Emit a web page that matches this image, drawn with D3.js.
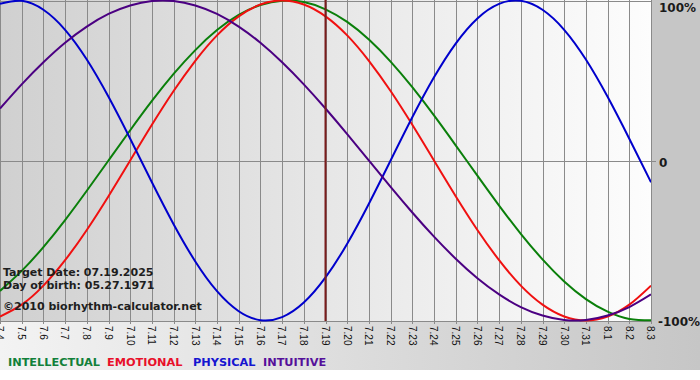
<!DOCTYPE html>
<html>
<head>
<meta charset="utf-8">
<script src="https://cdn.jsdelivr.net/npm/d3@7/dist/d3.min.js"></script>
<style>
  html, body { margin: 0; padding: 0; background: #ffffff; }
  svg { display: block; }
</style>
</head>
<body>
<div id="chart"></div>
<script>
// ---- data ----
const days = ["7.4","7.5","7.6","7.7","7.8","7.9","7.10","7.11","7.12","7.13","7.14","7.15","7.16","7.17","7.18","7.19","7.20","7.21","7.22","7.23","7.24","7.25","7.26","7.27","7.28","7.29","7.30","7.31","8.1","8.2","8.3"];
const intellectual = [-81.5,-69.0,-54.1,-37.2,-18.9,0,18.9,37.2,54.1,69.0,81.5,91.0,97.2,99.9,99.0,94.5,86.6,75.6,61.8,45.8,28.2,9.5,-9.5,-28.2,-45.8,-61.8,-75.6,-86.6,-94.5,-99.0,-99.9];
const emotional    = [-97.5,-90.1,-78.2,-62.3,-43.4,-22.3,0,22.3,43.4,62.3,78.2,90.1,97.5,100,97.5,90.1,78.2,62.3,43.4,22.3,0,-22.3,-43.4,-62.3,-78.2,-90.1,-97.5,-100,-97.5,-90.1,-78.2];
const physical     = [97.9,99.8,94.2,81.7,63.1,39.8,13.6,-13.6,-39.8,-63.1,-81.7,-94.2,-99.8,-97.9,-88.8,-73.1,-52.0,-27.0,0,27.0,52.0,73.1,88.8,97.9,99.8,94.2,81.7,63.1,39.8,13.6,-13.6];
const intuitive    = [32.5,47.6,61.4,73.6,83.7,91.6,96.9,99.7,99.7,96.9,91.6,83.7,73.6,61.4,47.6,32.5,16.5,0,-16.5,-32.5,-47.6,-61.4,-73.6,-83.7,-91.6,-96.9,-99.7,-99.7,-96.9,-91.6,-83.7];
const seriesNames  = ["INTELLECTUAL","EMOTIONAL","PHYSICAL","INTUITIVE"];
const yTickValues  = [100, 0, -100];
const yTickLabels  = ["100%", "0", "-100%"];
const targetDay    = "7.19";
const infoLines    = ["Target Date: 07.19.2025", "Day of birth: 05.27.1971", "\u00A92010 biorhythm-calculator.net"];

// ---- layout ----
const W = 700, H = 380;
const plot = { left: 0, right: 651, top: 0, bottom: 321 };
const lineColors   = ["#0a7f0a", "#f01010", "#0000cc", "#4b0082"];
const legendColors = ["#12803a", "#e8102a", "#1515d0", "#55109a"];

const svg = d3.select("#chart").append("svg")
  .attr("width", W).attr("height", H);

const defs = svg.append("defs");
const gPlot = defs.append("linearGradient").attr("id", "plotGrad")
  .attr("x1", "0%").attr("x2", "100%").attr("y1", "0%").attr("y2", "0%");
gPlot.append("stop").attr("offset", "0%").attr("stop-color", "#d0d0d0");
gPlot.append("stop").attr("offset", "100%").attr("stop-color", "#fdfdfd");

const gBot = defs.append("linearGradient").attr("id", "botGrad")
  .attr("x1", "0%").attr("x2", "100%").attr("y1", "0%").attr("y2", "0%");
gBot.append("stop").attr("offset", "0%").attr("stop-color", "#f3f3f3");
gBot.append("stop").attr("offset", "100%").attr("stop-color", "#c6c6c6");

defs.append("clipPath").attr("id", "plotClip")
  .append("rect").attr("x", plot.left).attr("y", plot.top)
  .attr("width", plot.right - plot.left).attr("height", plot.bottom - plot.top + 1);

// backgrounds
svg.append("rect").attr("x", 0).attr("y", 0).attr("width", W).attr("height", H).attr("fill", "#ffffff");
svg.append("rect").attr("x", 0).attr("y", plot.bottom).attr("width", W).attr("height", 370 - plot.bottom).attr("fill", "url(#botGrad)");
svg.append("rect").attr("x", plot.right).attr("y", 0).attr("width", W - plot.right).attr("height", plot.bottom).attr("fill", "#c6c6c6");
svg.append("rect").attr("x", plot.left).attr("y", plot.top).attr("width", plot.right - plot.left).attr("height", plot.bottom - plot.top).attr("fill", "url(#plotGrad)");

// scales
const x = d3.scalePoint().domain(days).range([plot.left, plot.right]);
const y = d3.scaleLinear().domain([-100, 100]).range([plot.bottom - 0.5, plot.top + 0.5]);

// vertical grid lines + ticks
svg.append("g").selectAll("line").data(days).join("line")
  .attr("x1", d => Math.round(x(d)) + 0.5).attr("x2", d => Math.round(x(d)) + 0.5)
  .attr("y1", plot.top).attr("y2", plot.bottom + 3)
  .attr("stroke", "#8a8a8a").attr("stroke-width", 1);

// horizontal lines (top, zero, bottom)
svg.append("g").selectAll("line").data(yTickValues).join("line")
  .attr("x1", plot.left).attr("x2", d => d === 0 ? plot.right + 5 : plot.right)
  .attr("y1", d => Math.round(y(d)) + 0.5).attr("y2", d => Math.round(y(d)) + 0.5)
  .attr("stroke", "#8a8a8a").attr("stroke-width", 1);
svg.append("line").attr("x1", plot.right + 0.5).attr("x2", plot.right + 0.5)
  .attr("y1", plot.top).attr("y2", plot.bottom + 1)
  .attr("stroke", "#8a8a8a");

// x tick labels (rotated)
svg.append("g").selectAll("text").data(days).join("text")
  .attr("transform", d => `translate(${x(d)},${plot.bottom + 5}) rotate(90)`)
  .attr("dy", "0.36em")
  .attr("text-anchor", "start")
  .attr("font-family", "Liberation Sans, Arial, sans-serif")
  .attr("font-size", "10px")
  .attr("fill", "#111111")
  .text(d => d);

// y labels on right panel
svg.append("g").selectAll("text").data(yTickValues).join("text")
  .attr("x", (d, i) => i === 2 ? plot.right + 7 : plot.right + 8)
  .attr("y", d => d === 100 ? 12 : (d === 0 ? y(d) + 6 : y(d) + 5))
  .attr("font-family", "DejaVu Sans, Verdana, sans-serif")
  .attr("font-weight", "bold")
  .attr("font-size", "12px")
  .attr("fill", "#1a1a1a")
  .text((d, i) => yTickLabels[i]);

// curves
const series = [intellectual, emotional, physical, intuitive];
const line = d3.line()
  .x((d, i) => x(days[i]))
  .y(d => y(d))
  .curve(d3.curveNatural);

svg.append("g").attr("clip-path", "url(#plotClip)")
  .selectAll("path").data(series).join("path")
  .attr("d", d => line(d))
  .attr("fill", "none")
  .attr("stroke", (d, i) => lineColors[i])
  .attr("stroke-width", 2);

// target day line
svg.append("line")
  .attr("x1", x(targetDay)).attr("x2", x(targetDay))
  .attr("y1", plot.top).attr("y2", plot.bottom)
  .attr("stroke", "#7a1c1c").attr("stroke-width", 2);

// info text
const infoY = [276, 289, 310];
svg.append("g").selectAll("text").data(infoLines).join("text")
  .attr("x", 3).attr("y", (d, i) => infoY[i])
  .attr("font-family", "DejaVu Sans, Verdana, sans-serif")
  .attr("font-weight", "bold")
  .attr("font-size", "11px")
  .attr("fill", "#1e1e1e")
  .text(d => d);

// legend
const legendX = [8, 107, 193, 263];
svg.append("g").selectAll("text").data(seriesNames).join("text")
  .attr("x", (d, i) => legendX[i]).attr("y", 366)
  .attr("font-family", "DejaVu Sans, Verdana, sans-serif")
  .attr("font-weight", "bold")
  .attr("font-size", "11.3px")
  .attr("fill", (d, i) => legendColors[i])
  .text(d => d);
</script>
</body>
</html>
